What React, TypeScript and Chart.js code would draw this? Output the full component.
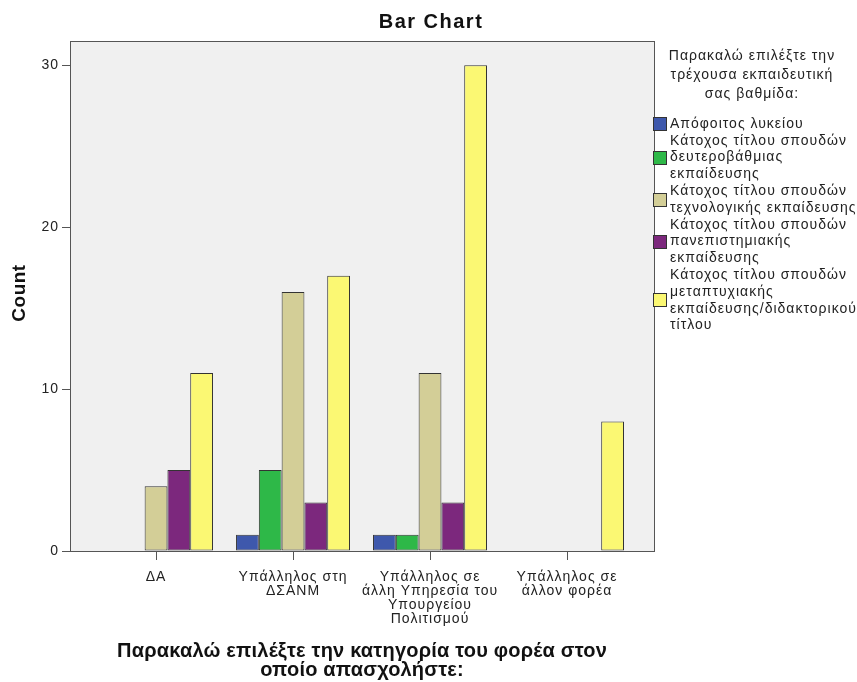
import React, { useEffect, useRef } from 'react';
import { Chart, registerables } from 'chart.js';
Chart.register(...registerables);

const chartTitle = 'Bar Chart';
const yTitle = 'Count';
const xTitleLines = ['Παρακαλώ επιλέξτε την κατηγορία του φορέα στον', 'οποίο απασχολήστε:'];
const legendTitleLines = ['Παρακαλώ επιλέξτε την', 'τρέχουσα εκπαιδευτική', 'σας βαθμίδα:'];

const categories: string[][] = [
  ['ΔΑ'],
  ['Υπάλληλος στη', 'ΔΣΑΝΜ'],
  ['Υπάλληλος σε', 'άλλη Υπηρεσία του', 'Υπουργείου', 'Πολιτισμού'],
  ['Υπάλληλος σε', 'άλλον φορέα'],
];

const seriesNames = [
  'Απόφοιτος λυκείου',
  'Κάτοχος τίτλου σπουδών δευτεροβάθμιας εκπαίδευσης',
  'Κάτοχος τίτλου σπουδών τεχνολογικής εκπαίδευσης',
  'Κάτοχος τίτλου σπουδών πανεπιστημιακής εκπαίδευσης',
  'Κάτοχος τίτλου σπουδών μεταπτυχιακής εκπαίδευσης/διδακτορικού τίτλου',
];
const legendLines: string[][] = [
  ['Απόφοιτος λυκείου'],
  ['Κάτοχος τίτλου σπουδών', 'δευτεροβάθμιας', 'εκπαίδευσης'],
  ['Κάτοχος τίτλου σπουδών', 'τεχνολογικής εκπαίδευσης'],
  ['Κάτοχος τίτλου σπουδών', 'πανεπιστημιακής', 'εκπαίδευσης'],
  ['Κάτοχος τίτλου σπουδών', 'μεταπτυχιακής', 'εκπαίδευσης/διδακτορικού', 'τίτλου'],
];
const seriesColors = ['#3E58AC', '#2EB848', '#D3CE97', '#7C287D', '#FBF873'];

const lykeiou = [null, 1, 1, null];
const defterovathmias = [null, 5, 1, null];
const technologikis = [4, 16, 11, null];
const panepistimiakis = [5, 3, 3, null];
const metaptyxiakis = [11, 17, 30, 8];
const seriesValues = [lykeiou, defterovathmias, technologikis, panepistimiakis, metaptyxiakis];

const yTicks = [0, 10, 20, 30];
const yMax = 31.5;

const FONT = "'Liberation Sans', Arial, sans-serif";

const framePlugin = {
  id: 'frame',
  beforeDraw(chart: any) {
    const { ctx, chartArea: a } = chart;
    ctx.save();
    ctx.fillStyle = '#ffffff';
    ctx.fillRect(0, 0, chart.width, chart.height);
    ctx.fillStyle = '#F0F0F0';
    ctx.fillRect(a.left, a.top, a.right - a.left, a.bottom - a.top);
    ctx.restore();
    (ctx as any).letterSpacing = '1px';
  },
  afterDraw(chart: any) {
    const { ctx, chartArea: a } = chart;
    ctx.save();
    ctx.strokeStyle = '#555555';
    ctx.lineWidth = 1;
    ctx.strokeRect(Math.round(a.left) + 0.5, Math.round(a.top) + 0.5, Math.round(a.right - a.left), Math.round(a.bottom - a.top));

    // Title
    ctx.fillStyle = '#111111';
    ctx.textAlign = 'center';
    ctx.textBaseline = 'middle';
    (ctx as any).letterSpacing = '1.5px';
    ctx.font = `bold 20px ${FONT}`;
    ctx.fillText(chartTitle, 431, 22);

    // Y title
    (ctx as any).letterSpacing = '0.5px';
    ctx.save();
    ctx.translate(20, 293);
    ctx.rotate(-Math.PI / 2);
    ctx.font = `bold 19px ${FONT}`;
    ctx.fillText(yTitle, 0, 0);
    ctx.restore();

    // X title
    const cx = (a.left + a.right) / 2;
    (ctx as any).letterSpacing = '0.2px';
    ctx.font = `bold 20px ${FONT}`;
    xTitleLines.forEach((l, i) => ctx.fillText(l, cx, 651 + i * 19));

    // Legend title
    (ctx as any).letterSpacing = '1px';
    ctx.fillStyle = '#222222';
    ctx.font = `14px ${FONT}`;
    legendTitleLines.forEach((l, i) => ctx.fillText(l, 752, 56 + i * 19));

    // Legend items
    ctx.textAlign = 'left';
    ctx.font = `14px ${FONT}`;
    let y = 124;
    const step = 16.8;
    legendLines.forEach((lines, si) => {
      const first = y;
      lines.forEach((l) => {
        ctx.fillStyle = '#222222';
        ctx.fillText(l, 670, y);
        y += step;
      });
      const mid = (first + y - step) / 2;
      ctx.fillStyle = seriesColors[si];
      ctx.fillRect(653, Math.round(mid - 7), 14, 14);
      ctx.strokeStyle = '#333333';
      ctx.strokeRect(653.5, Math.round(mid - 7) + 0.5, 13, 13);
    });
    ctx.restore();
  },
};

export default function App() {
  const ref = useRef<HTMLCanvasElement>(null);
  useEffect(() => {
    document.body.style.margin = '0';
    const chart = new Chart(ref.current as HTMLCanvasElement, {
      type: 'bar',
      data: {
        datasets: seriesValues.map((vals, si) => ({
          label: seriesNames[si],
          data: vals.map((v, i) => ({ x: i, y: v })) as any,
          backgroundColor: seriesColors[si],
          borderColor: '#333333',
          borderWidth: 1,
          borderSkipped: false,
          categoryPercentage: 0.832,
          barPercentage: 1,
        })),
      },
      options: {
        responsive: false,
        animation: false,
        devicePixelRatio: 1,
        layout: { padding: { left: 0, right: 203, top: 41, bottom: 0 } },
        plugins: { legend: { display: false }, title: { display: false }, tooltip: { enabled: false } },
        scales: {
          x: {
            type: 'linear',
            min: -0.628,
            max: 3.635,
            offset: false,
            grid: { offset: false, drawOnChartArea: false, drawTicks: true, tickLength: 9, color: '#555555' },
            border: { display: false },
            afterBuildTicks: (s: any) => { s.ticks = [0, 1, 2, 3].map((v) => ({ value: v })); },
            afterFit: (s: any) => { s.height = 131; },
            ticks: {
              autoSkip: false,
              maxRotation: 0,
              padding: 10,
              color: '#222222',
              font: { family: FONT, size: 14, lineHeight: 1.0 },
              callback: (v: any) => categories[v as number] ?? '',
            },
          },
          y: {
            min: 0,
            max: yMax,
            grid: { drawOnChartArea: false, drawTicks: true, tickLength: 8, color: '#555555' },
            border: { display: false },
            afterBuildTicks: (s: any) => { s.ticks = yTicks.map((v) => ({ value: v })); },
            afterFit: (s: any) => { s.width = 70; },
            ticks: {
              padding: 3,
              color: '#222222',
              font: { family: FONT, size: 14 },
            },
          },
        },
      },
      plugins: [framePlugin],
    } as any);
    return () => chart.destroy();
  }, []);
  return (
    <div style={{ width: 857, height: 682 }}>
      <canvas ref={ref} width={857} height={682} style={{ width: 857, height: 682, display: 'block' }} />
    </div>
  );
}
